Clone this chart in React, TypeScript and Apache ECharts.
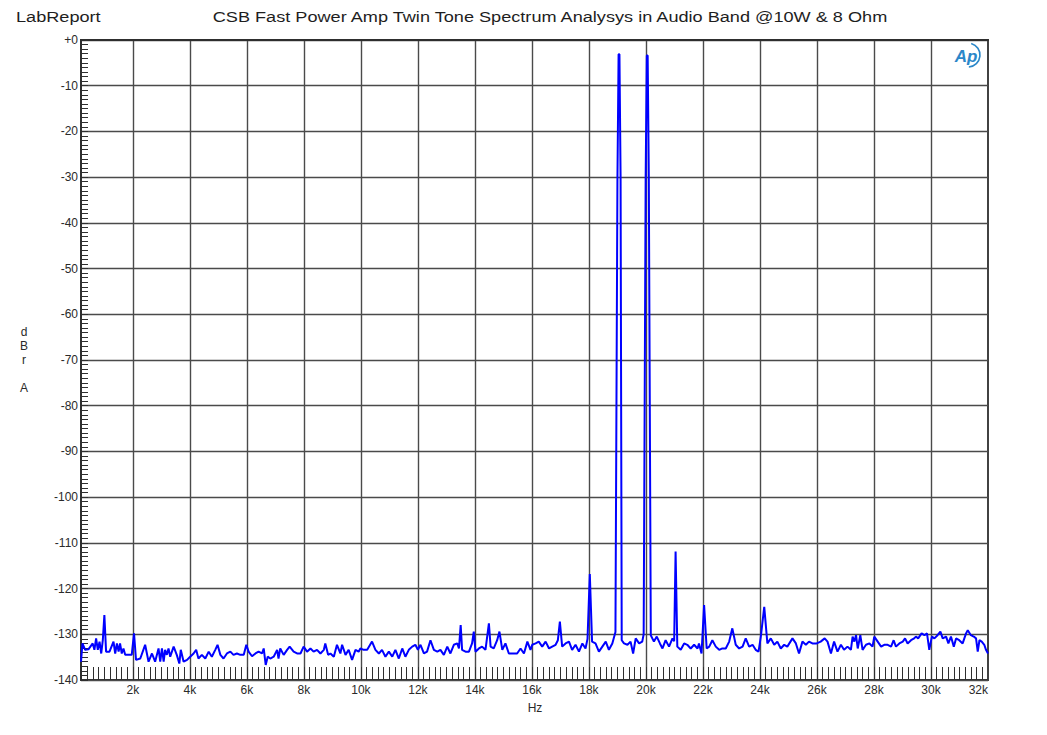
import React, { useEffect, useRef } from "react";
import * as echarts from "echarts";

const titleText = "CSB Fast Power Amp Twin Tone Spectrum Analysys in Audio Band @10W & 8 Ohm";
const brandText = "LabReport";
const xName = "Hz";
const yNameLetters = ["d", "B", "r", "", "A"];

const xMin = 180;
const xMax = 32000;
const yMin = -140;
const yMax = 0;
const yStep = 10;

const xLabelValues = [2000, 4000, 6000, 8000, 10000, 12000, 14000, 16000, 18000, 20000, 22000, 24000, 26000, 28000, 30000, 32000];
const xGridValues = [2000, 4000, 6000, 8000, 10000, 12000, 14000, 16000, 18000, 20000, 22000, 24000, 26000, 28000, 30000];
const xMinorStep = 200;

const freqs = [
  180, 231, 325, 440, 590, 650, 710, 770, 830, 890, 945, 1000, 1060, 1180, 1320, 1380, 1440, 1500, 1550, 1610,
  1670, 1730, 1850, 1960, 2040, 2110, 2260, 2430, 2550, 2670, 2780, 2900, 2960, 3020, 3080, 3130, 3190, 3250, 3310, 3430,
  3540, 3630, 3680, 3780, 3900, 4010, 4130, 4220, 4300, 4420, 4540, 4660, 4770, 4890, 4970, 5070, 5180, 5300, 5420, 5530,
  5650, 5770, 5890, 5980, 6060, 6180, 6300, 6410, 6530, 6590, 6660, 6730, 6820, 6940, 7060, 7110, 7170, 7290, 7410, 7500,
  7640, 7760, 7880, 7990, 8110, 8230, 8340, 8460, 8580, 8700, 8750, 8850, 8930, 9050, 9160, 9280, 9340, 9460, 9570, 9690,
  9810, 9920, 9980, 10100, 10220, 10390, 10510, 10630, 10740, 10860, 10980, 11100, 11210, 11330, 11450, 11560, 11680, 11800, 11910, 12000,
  12090, 12210, 12320, 12440, 12560, 12680, 12790, 12910, 13030, 13140, 13260, 13380, 13440, 13500, 13550, 13670, 13790, 13900, 13960, 14020,
  14140, 14250, 14370, 14490, 14550, 14660, 14780, 14860, 14960, 15070, 15190, 15310, 15480, 15600, 15720, 15840, 15950, 16010, 16130, 16240,
  16360, 16480, 16600, 16710, 16830, 16910, 16980, 17060, 17180, 17300, 17410, 17530, 17650, 17770, 17880, 17950, 18030, 18110, 18230, 18350,
  18470, 18590, 18700, 18820, 18930, 19000, 19040, 19070, 19110, 19150, 19230, 19350, 19460, 19550, 19640, 19760, 19870, 19920, 19990, 20030,
  20060, 20100, 20170, 20280, 20380, 20490, 20580, 20690, 20810, 20930, 20990, 21040, 21100, 21220, 21340, 21450, 21570, 21690, 21810, 21860,
  21950, 22040, 22130, 22220, 22330, 22450, 22570, 22680, 22800, 22920, 23030, 23150, 23270, 23390, 23500, 23620, 23740, 23850, 23950, 24030,
  24150, 24260, 24380, 24500, 24610, 24730, 24850, 24960, 25140, 25260, 25370, 25490, 25610, 25720, 25840, 25990, 26130, 26270, 26370, 26490,
  26600, 26720, 26840, 26950, 27070, 27190, 27250, 27310, 27370, 27430, 27520, 27600, 27720, 27840, 27950, 28010, 28130, 28250, 28360, 28480,
  28600, 28690, 28770, 28890, 29010, 29090, 29180, 29300, 29410, 29470, 29550, 29670, 29770, 29860, 29940, 30030, 30120, 30230, 30330, 30410,
  30530, 30610, 30700, 30800, 30880, 30990, 31110, 31230, 31290, 31400, 31500, 31580, 31640, 31700, 31780, 31870, 31930, 32000
];

const levels = [
  -136.0, -132.0, -133.4, -133.3, -132.0, -133.4, -130.9, -133.4, -131.6, -134.2, -131.3, -125.8, -133.8, -133.8, -131.6, -134.2, -132.0, -133.8, -132.0, -134.2,
  -133.1, -134.5, -134.5, -134.5, -129.8, -135.6, -135.3, -132.3, -136.0, -134.2, -136.0, -133.1, -136.0, -133.1, -136.0, -133.4, -134.5, -133.1, -134.9, -132.7,
  -134.5, -136.4, -133.4, -136.0, -135.6, -134.9, -134.2, -133.4, -135.3, -134.5, -135.3, -133.8, -134.9, -133.4, -132.3, -134.5, -135.3, -134.2, -133.8, -134.5,
  -134.2, -134.5, -134.5, -132.3, -133.8, -134.8, -134.2, -133.8, -134.2, -133.1, -136.7, -134.9, -135.3, -134.9, -133.4, -135.3, -133.1, -134.5, -133.4, -132.7,
  -133.8, -134.2, -134.2, -132.7, -133.8, -133.1, -133.8, -133.4, -134.2, -133.4, -132.0, -134.5, -134.2, -134.9, -132.3, -134.2, -132.3, -134.5, -133.4, -135.6,
  -133.4, -133.8, -133.1, -133.4, -133.4, -131.6, -133.4, -134.2, -133.4, -134.9, -133.8, -134.9, -133.4, -135.3, -133.1, -134.9, -133.4, -132.7, -132.3, -133.4,
  -132.3, -134.2, -133.8, -131.3, -133.4, -133.8, -133.4, -134.5, -132.7, -134.2, -132.3, -132.0, -133.1, -128.0, -133.4, -133.8, -133.8, -132.0, -129.4, -133.8,
  -133.1, -132.7, -133.4, -127.6, -132.7, -133.1, -131.3, -129.4, -133.4, -132.0, -134.2, -134.2, -134.2, -133.1, -134.2, -131.6, -133.4, -132.3, -132.0, -131.6,
  -132.7, -131.6, -133.1, -132.7, -132.3, -131.3, -127.2, -132.7, -132.0, -131.6, -133.4, -132.3, -133.8, -132.0, -133.1, -131.0, -116.8, -131.6, -132.0, -133.8,
  -132.7, -131.6, -133.4, -132.0, -129.5, -30.0, -3.1, -3.1, -30.0, -131.3, -132.0, -132.3, -131.6, -134.2, -130.9, -132.0, -131.6, -130.0, -30.0, -3.4,
  -3.4, -30.0, -130.2, -131.6, -130.5, -132.0, -133.1, -131.3, -132.7, -130.9, -131.5, -111.9, -132.7, -133.4, -132.0, -132.3, -133.1, -132.3, -133.1, -132.0,
  -134.2, -123.6, -133.1, -132.7, -131.3, -132.7, -133.4, -133.1, -133.1, -131.6, -128.7, -132.3, -133.1, -132.7, -130.9, -132.7, -132.3, -133.4, -133.8, -130.5,
  -124.0, -132.0, -130.9, -132.3, -131.6, -133.1, -132.3, -132.7, -130.9, -132.0, -134.2, -131.6, -132.3, -131.6, -132.0, -132.0, -131.6, -130.9, -131.6, -134.2,
  -131.6, -133.8, -132.3, -133.4, -132.7, -133.4, -130.5, -131.6, -130.2, -133.1, -130.2, -133.4, -132.3, -132.0, -132.7, -130.5, -131.6, -132.7, -132.3, -132.3,
  -132.7, -131.3, -132.7, -132.0, -131.6, -130.9, -132.0, -131.3, -130.9, -130.5, -130.9, -129.8, -130.2, -129.8, -133.4, -130.5, -130.9, -130.2, -129.4, -130.9,
  -130.5, -132.0, -130.5, -132.7, -130.9, -131.3, -132.0, -129.8, -129.1, -130.2, -130.5, -130.9, -133.8, -131.3, -131.6, -132.3, -133.4, -134.2
];

const FONT = "'Liberation Sans', Arial, Helvetica, sans-serif";

export default function App() {
  const ref = useRef<HTMLDivElement | null>(null);

  useEffect(() => {
    if (!ref.current) return;
    const chart = echarts.init(ref.current, undefined, { renderer: "svg" });

    const xMinorTicks: number[] = [];
    for (let v = xMinorStep; v < xMax; v += xMinorStep) xMinorTicks.push(v);

    const data = freqs.map((f, i) => [f, levels[i]]);

    const option: any = {
      animation: false,
      backgroundColor: "#ffffff",
      grid: {
        left: 81,
        right: 59,
        top: 40,
        bottom: 55,
        show: true,
        borderColor: "#2e2e2e",
        borderWidth: 1.8,
        backgroundColor: "#ffffff",
      },
      xAxis: [
        {
          type: "value",
          min: xMin,
          max: xMax,
          position: "bottom",
          axisLine: { show: true, lineStyle: { color: "#2e2e2e", width: 1.8 } },
          axisTick: { show: false, customValues: xGridValues },
          axisLabel: {
            customValues: xLabelValues,
            formatter: (v: number) => v / 1000 + "k",
            color: "#2a2a2a",
            fontSize: 12,
            fontFamily: FONT,
            margin: 4,
            alignMaxLabel: "right",
          },
          splitLine: { show: true, lineStyle: { color: "#4a4a4a", width: 1.4 } },
        },
        {
          type: "value",
          min: xMin,
          max: xMax,
          position: "bottom",
          axisLine: { show: false },
          axisLabel: { show: false },
          splitLine: { show: false },
          axisTick: {
            show: true,
            inside: true,
            length: 13,
            customValues: xMinorTicks,
            lineStyle: { color: "#2e2e2e", width: 1 },
          },
        },
      ],
      yAxis: {
        type: "value",
        min: yMin,
        max: yMax,
        interval: yStep,
        axisLine: { show: true, lineStyle: { color: "#2e2e2e", width: 1.8 } },
        axisTick: { show: true, inside: true, length: 7, lineStyle: { color: "#2e2e2e" } },
        minorTick: { show: true, splitNumber: 10, length: 7, lineStyle: { color: "#2e2e2e", width: 1 } },
        axisLabel: {
          formatter: (v: number) => (v === 0 ? "+0" : String(v)),
          color: "#2a2a2a",
          fontSize: 12,
          fontFamily: FONT,
          margin: 3,
        },
        splitLine: { show: true, lineStyle: { color: "#4a4a4a", width: 1.4 } },
      },
      series: [
        {
          type: "line",
          xAxisIndex: 0,
          data,
          showSymbol: false,
          symbol: "none",
          lineStyle: { color: "#0000ff", width: 2 },
          itemStyle: { color: "#0000ff" },
          clip: true,
          z: 5,
        },
      ],
      graphic: [
        {
          type: "text",
          x: 16,
          y: 17,
          scaleX: 1.21,
          style: {
            text: brandText,
            fill: "#1e1e1e",
            fontSize: 15,
            fontFamily: FONT,
            align: "left",
            textAlign: "left",
            verticalAlign: "middle",
            textVerticalAlign: "middle",
          },
        },
        {
          type: "text",
          x: 550,
          y: 17,
          scaleX: 1.21,
          style: {
            text: titleText,
            fill: "#1e1e1e",
            fontSize: 15,
            fontFamily: FONT,
            align: "center",
            textAlign: "center",
            verticalAlign: "middle",
            textVerticalAlign: "middle",
          },
        },
        {
          type: "text",
          x: 24,
          y: 325,
          style: {
            text: yNameLetters.join("\n"),
            fill: "#2a2a2a",
            fontSize: 12,
            lineHeight: 14,
            fontFamily: FONT,
            align: "center",
            textAlign: "center",
            verticalAlign: "top",
            textVerticalAlign: "top",
          },
        },
        {
          type: "text",
          x: 535,
          y: 708,
          style: {
            text: xName,
            fill: "#2a2a2a",
            fontSize: 12,
            fontFamily: FONT,
            align: "center",
            textAlign: "center",
            verticalAlign: "middle",
            textVerticalAlign: "middle",
          },
        },
        {
          type: "text",
          x: 966,
          y: 56,
          style: {
            text: "Ap",
            fill: "#2b87c9",
            fontSize: 17,
            fontStyle: "italic",
            fontWeight: "bold",
            fontFamily: FONT,
            align: "center",
            textAlign: "center",
            verticalAlign: "middle",
            textVerticalAlign: "middle",
          },
        },
        {
          type: "arc",
          shape: { cx: 968, cy: 55, r: 12, startAngle: -1.3, endAngle: 1.5 },
          style: { stroke: "#2b87c9", lineWidth: 1.6, fill: "none" },
        },
      ],
    };

    chart.setOption(option);
    return () => chart.dispose();
  }, []);

  return (
    <div
      ref={ref}
      style={{ position: "absolute", left: 0, top: 0, width: 1047, height: 735 }}
    />
  );
}
